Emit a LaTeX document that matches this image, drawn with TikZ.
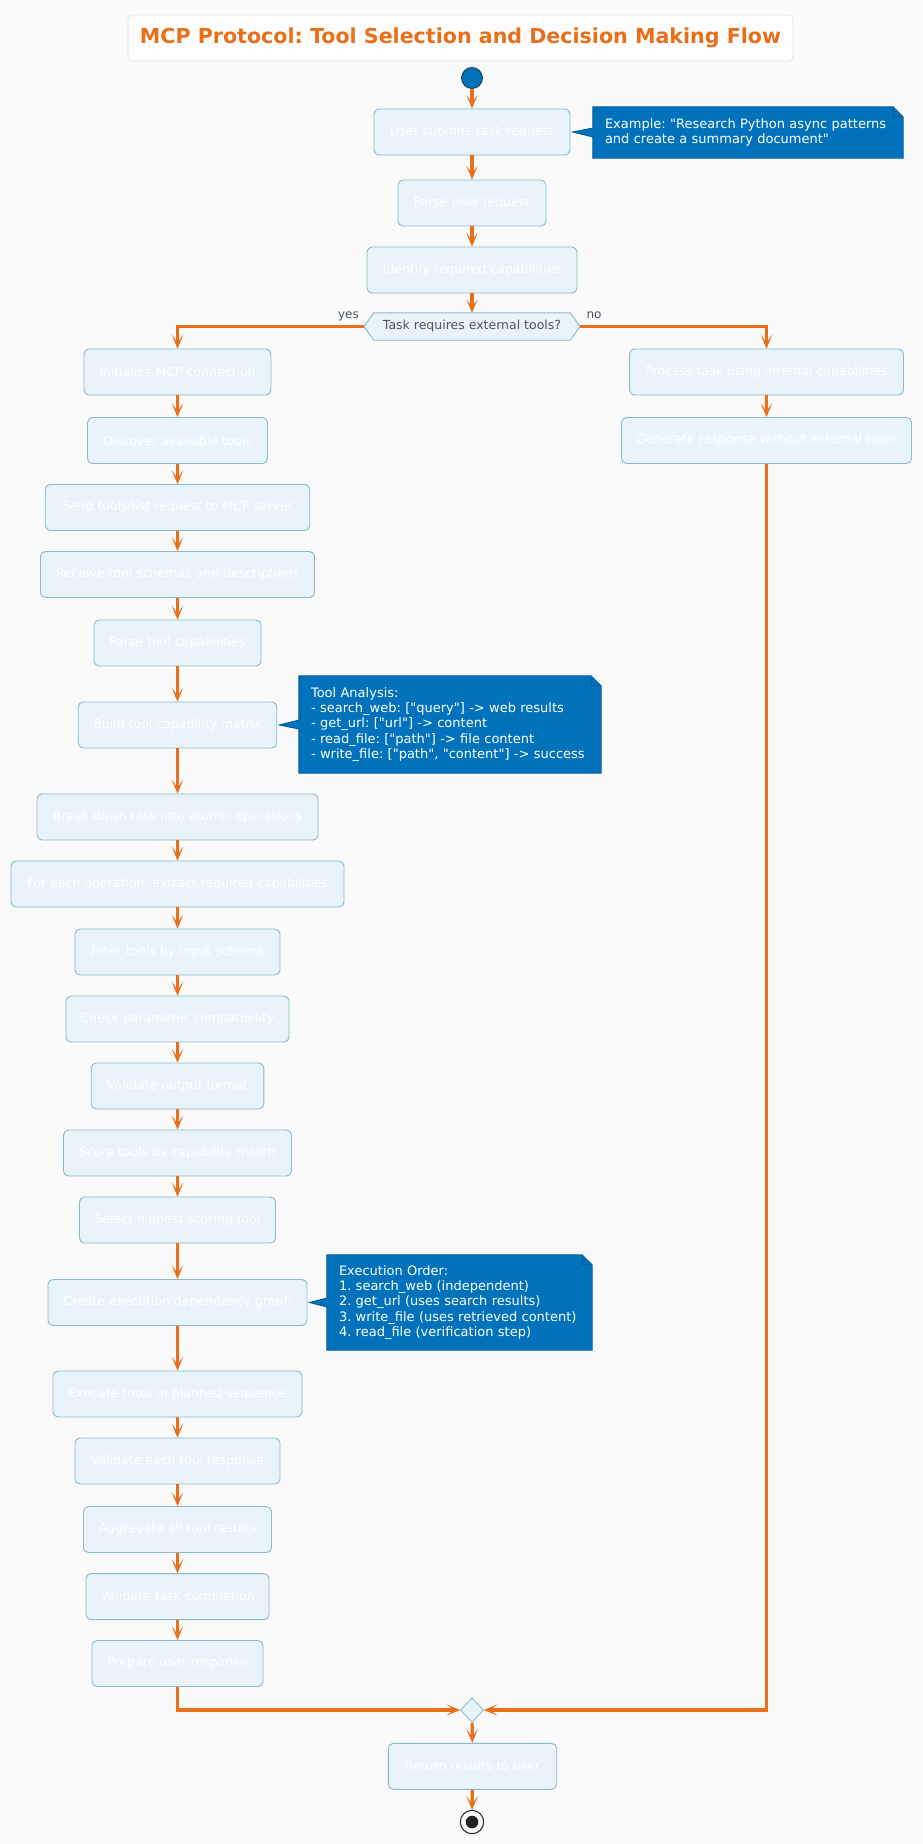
\documentclass[tikz,border=0pt]{standalone}
\usepackage{fontspec}
\setmainfont{DejaVu Sans}[Ligatures=TeXOff]
\usetikzlibrary{arrows.meta,calc,shapes.geometric}
\frenchspacing
\hyphenpenalty=10000
\exhyphenpenalty=10000

\definecolor{paper}{HTML}{FAFAFA}
\definecolor{accent}{HTML}{E8701A}
\definecolor{boxfill}{HTML}{E8F4F9}
\definecolor{boxline}{HTML}{8AB9C9}
\definecolor{notefill}{HTML}{0072BB}
\definecolor{noteline}{HTML}{005A96}
\definecolor{ink}{HTML}{4A5561}
\definecolor{titleline}{HTML}{E4E4E4}
\definecolor{dot}{HTML}{222222}
\definecolor{startline}{HTML}{1E3550}

\pgfdeclarelayer{paperlayer}
\pgfdeclarelayer{shapelayer}
\pgfsetlayers{paperlayer,shapelayer,main}

\tikzset{
  stepbox/.style={draw=boxline, fill=boxfill, rounded corners=5pt, line width=0.9pt,
    text=white, font=\fontsize{12.5}{15}\selectfont, minimum height=46pt, inner sep=0pt},
  decbox/.style={text=ink, font=\fontsize{12.5}{15}\selectfont, minimum height=27pt,
    inner sep=0pt},
  flow/.style={draw=accent, line width=3.2pt,
    -{Stealth[length=14pt,width=11.5pt,inset=8.5pt,line width=0.4pt]}},
  notetext/.style={text=white, font=\fontsize{13}{15.3}\selectfont, align=left,
    inner xsep=12pt, inner ysep=0pt},
  notebody/.style={draw=noteline, line width=0.8pt, line join=miter},
  branchlabel/.style={text=ink, font=\fontsize{12}{14}\selectfont, anchor=base, inner sep=0pt}
}

% note outline with folded corner and a tail pointing at a step
\newcommand{\notebody}[2]{%
  \fill[notefill] (#1.north west) -- ($(#1.north east)+(-10,0)$) -- ($(#1.north east)+(0,10)$)
    -- (#1.south east) -- (#1.south west) -- ($(#1.west)+(0,4.5)$) -- ($(#2.east)+(2,0)$)
    -- ($(#1.west)+(0,-4.5)$) -- cycle;
  \draw[notebody] (#1.north west) -- ($(#1.north east)+(-10,0)$) -- ($(#1.north east)+(0,10)$)
    -- (#1.south east) -- (#1.south west) -- ($(#1.west)+(0,4.5)$) -- ($(#2.east)+(2,0)$)
    -- ($(#1.west)+(0,-4.5)$) -- cycle;
  \draw[notebody] ($(#1.north east)+(-10,0)$) -- ($(#1.north east)+(-10,10)$)
    -- ($(#1.north east)+(0,10)$);
}

\begin{document}
\begin{tikzpicture}[x=1pt,y=-1pt]
\useasboundingbox (0,0) rectangle (922,1844);
\begin{pgfonlayer}{paperlayer}
  \fill[paper] (0,0) rectangle (922,1844);
\end{pgfonlayer}

% title
\node[draw=titleline, fill=white!60!paper, rounded corners=4pt, line width=0.8pt,
      minimum width=665pt, minimum height=46pt, inner sep=0pt,
      text=accent, font=\bfseries\fontsize{20.6}{24}\selectfont] (title) at (460.5,38)
  {MCP Protocol: Tool Selection and Decision Making Flow};

% main column
\node[circle, fill=notefill, draw=startline, line width=0.8pt, minimum size=21pt,
      inner sep=0pt] (start) at (472,78) {};
\node[stepbox, minimum width=196pt] (submit) at (472,132) {User submits task request};
\node[stepbox, minimum width=148pt] (parse) at (472,203) {Parse user request};
\node[stepbox, minimum width=210pt] (identify) at (472,270) {Identify required capabilities};
\node[decbox, minimum width=196pt] (decide) at (472,326.5) {Task requires external tools?};
\coordinate (decL) at ($(decide.west)+(-10,0)$);
\coordinate (decR) at ($(decide.east)+(10,0)$);
\begin{pgfonlayer}{shapelayer}
  \draw[fill=boxfill, draw=boxline, line width=0.9pt] (decide.north west) -- (decide.north east)
    -- (decR) -- (decide.south east) -- (decide.south west) -- (decL) -- cycle;
\end{pgfonlayer}
\node[branchlabel] (yes) at (348.5,318.5) {yes};
\node[branchlabel] (no) at (594,318.5) {no};

% external tools branch
\node[stepbox, minimum width=187pt] (init) at (177.5,372) {Initialize MCP connection};
\node[stepbox, minimum width=180pt] (discover) at (177.5,440.5) {Discover available tools};
\node[stepbox, minimum width=264.5pt] (sendlist) at (177.5,507.5) {Send tools/list request to MCP server};
\node[stepbox, minimum width=274pt] (receive) at (177.5,574.5) {Receive tool schemas and descriptions};
\node[stepbox, minimum width=167pt] (parsecap) at (177.5,643) {Parse tool capabilities};
\node[stepbox, minimum width=198.5pt] (matrix) at (177.5,725) {Build tool capability matrix};
\node[stepbox, minimum width=281pt] (breakdown) at (177.5,817) {Break down task into atomic operations};
\node[stepbox, minimum width=333pt] (foreach) at (177.5,884) {For each operation, extract required capabilities};
\node[stepbox, minimum width=205pt] (filter) at (177.5,952) {Filter tools by input schema};
\node[stepbox, minimum width=223pt] (checkparam) at (177.5,1019) {Check parameter compatibility};
\node[stepbox, minimum width=172.6pt] (validout) at (177.5,1086) {Validate output format};
\node[stepbox, minimum width=228pt] (score) at (177.5,1153) {Score tools by capability match};
\node[stepbox, minimum width=196pt] (select) at (177.5,1220) {Select highest scoring tool};
\node[stepbox, minimum width=259pt] (depgraph) at (177.5,1302.5) {Create execution dependency graph};
\node[stepbox, minimum width=249pt] (execute) at (177.5,1394) {Execute tools in planned sequence};
\node[stepbox, minimum width=205pt] (validresp) at (177.5,1461) {Validate each tool response};
\node[stepbox, minimum width=188pt] (aggregate) at (177.5,1529.5) {Aggregate all tool results};
\node[stepbox, minimum width=183pt] (validtask) at (177.5,1596.6) {Validate task completion};
\node[stepbox, minimum width=171pt] (prepare) at (177.5,1663.5) {Prepare user response};

% internal branch
\node[stepbox, minimum width=274pt] (internal) at (766.5,372) {Process task using internal capabilities};
\node[stepbox, minimum width=290pt] (generate) at (766.5,440.5) {Generate response without external tools};

% merge and finish
\node[diamond, aspect=1, fill=boxfill, draw=boxline, line width=0.8pt, minimum width=23pt,
      minimum height=24.5pt, inner sep=0pt] (merge) at (472,1710) {};
\node[stepbox, minimum width=168.4pt] (return) at (472.5,1766.3) {Return results to user};
\node[circle, draw=dot, fill=paper, line width=1pt, minimum size=23.4pt, inner sep=0pt,
      path picture={\fill[dot] (path picture bounding box.center) circle (6.3pt);}]
  (stop) at (472,1822) {};

% notes
\node[notetext, text width=286pt, minimum height=51pt] (note1) at (748,132.5)
  {Example: "Research Python async patterns\\and create a summary document"};
\node[notetext, text width=278pt, minimum height=97pt] (note2) at (450,724.5)
  {Tool Analysis:\\- search\_web: ["query"] -> web results\\- get\_url: ["url"] -> content\\- read\_file: ["path"] -> file content\\- write\_file: ["path", "content"] -> success};
\node[notetext, text width=241pt, minimum height=95pt] (note3) at (459.5,1302.5)
  {Execution Order:\\1. search\_web (independent)\\2. get\_url (uses search results)\\3. write\_file (uses retrieved content)\\4. read\_file (verification step)};
\begin{pgfonlayer}{shapelayer}
  \notebody{note1}{submit}
  \notebody{note2}{matrix}
  \notebody{note3}{depgraph}
\end{pgfonlayer}

% connectors
\draw[flow] (start) -- (submit);
\draw[flow] (submit) -- (parse);
\draw[flow] (parse) -- (identify);
\draw[flow] (identify) -- (decide);
\draw[flow] (decL) -| (init.north);
\draw[flow] (decR) -| (internal.north);
\foreach \a/\b in {init/discover, discover/sendlist, sendlist/receive, receive/parsecap,
  parsecap/matrix, matrix/breakdown, breakdown/foreach, foreach/filter, filter/checkparam,
  checkparam/validout, validout/score, score/select, select/depgraph, depgraph/execute,
  execute/validresp, validresp/aggregate, aggregate/validtask, validtask/prepare,
  internal/generate}
  \draw[flow] (\a.south) -- (\b.north);
\draw[flow] (prepare.south) |- (merge.west);
\draw[flow] (generate.south) |- (merge.east);
\draw[flow] (merge) -- (return);
\draw[flow] (return) -- (stop);
\end{tikzpicture}
\end{document}
